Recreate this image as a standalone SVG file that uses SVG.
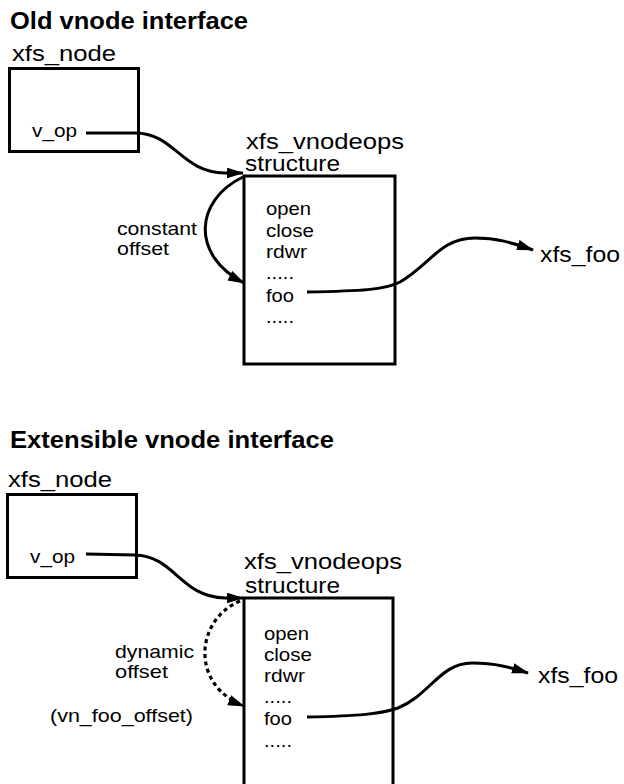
<svg xmlns="http://www.w3.org/2000/svg" width="624" height="784" viewBox="0 0 624 784">
<defs>
<style>
text{font-family:"Liberation Sans",Arial,Helvetica,sans-serif;fill:#000}
.title{font-weight:bold;font-size:24px}
.big{font-size:22px}
.sm{font-size:19px}
.box{fill:none;stroke:#000;stroke-width:3}
.conn{fill:none;stroke:#000;stroke-width:3}
.dash{stroke-dasharray:4 3.5;stroke-width:3.2}
</style>
<marker id="arr" viewBox="0 0 16 10" refX="15" refY="5" markerWidth="17" markerHeight="11" markerUnits="userSpaceOnUse" orient="auto">
<path d="M0,0 L16,5 L0,10 Z" fill="#000"/>
</marker>
</defs>
<rect width="624" height="784" fill="#fff"/>

<g id="old">
<text class="title" x="10" y="29" textLength="238" lengthAdjust="spacingAndGlyphs">Old vnode interface</text>
<g id="old-xfs-node">
<text class="big" x="12" y="61" textLength="104" lengthAdjust="spacingAndGlyphs">xfs_node</text>
<rect class="box" x="9.5" y="68.5" width="129" height="83"/>
<text class="sm" x="32" y="137" textLength="45" lengthAdjust="spacingAndGlyphs">v_op</text>
</g>
<g id="old-vnodeops">
<text class="big" x="246" y="148.5" textLength="158" lengthAdjust="spacingAndGlyphs">xfs_vnodeops</text>
<text class="big" x="245" y="171" textLength="95" lengthAdjust="spacingAndGlyphs">structure</text>
<rect class="box" x="244" y="176" width="151" height="188"/>
<text class="sm" x="266" y="215" textLength="45" lengthAdjust="spacingAndGlyphs">open</text>
<text class="sm" x="266" y="236.5" textLength="48" lengthAdjust="spacingAndGlyphs">close</text>
<text class="sm" x="266" y="258" textLength="41" lengthAdjust="spacingAndGlyphs">rdwr</text>
<text class="sm" x="266" y="279" textLength="28" lengthAdjust="spacingAndGlyphs">.....</text>
<text class="sm" x="266" y="301.5" textLength="28" lengthAdjust="spacingAndGlyphs">foo</text>
<text class="sm" x="266" y="323" textLength="28" lengthAdjust="spacingAndGlyphs">.....</text>
</g>
<g id="old-offset-label">
<text class="sm" x="117" y="235" textLength="80" lengthAdjust="spacingAndGlyphs">constant</text>
<text class="sm" x="117" y="255" textLength="52" lengthAdjust="spacingAndGlyphs">offset</text>
</g>
<g id="old-xfs-foo">
<text class="big" x="540" y="262" textLength="80" lengthAdjust="spacingAndGlyphs">xfs_foo</text>
</g>
</g>

<g id="new">
<text class="title" x="10" y="448" textLength="324" lengthAdjust="spacingAndGlyphs">Extensible vnode interface</text>
<g id="new-xfs-node">
<text class="big" x="8" y="487" textLength="104" lengthAdjust="spacingAndGlyphs">xfs_node</text>
<rect class="box" x="7.5" y="494.5" width="129" height="83"/>
<text class="sm" x="30" y="563" textLength="45" lengthAdjust="spacingAndGlyphs">v_op</text>
</g>
<g id="new-vnodeops">
<text class="big" x="244" y="569" textLength="158" lengthAdjust="spacingAndGlyphs">xfs_vnodeops</text>
<text class="big" x="245" y="593" textLength="95" lengthAdjust="spacingAndGlyphs">structure</text>
<rect class="box" x="244" y="598" width="149" height="200"/>
<text class="sm" x="264" y="640" textLength="45" lengthAdjust="spacingAndGlyphs">open</text>
<text class="sm" x="264" y="661" textLength="48" lengthAdjust="spacingAndGlyphs">close</text>
<text class="sm" x="264" y="682" textLength="41" lengthAdjust="spacingAndGlyphs">rdwr</text>
<text class="sm" x="264" y="703" textLength="28" lengthAdjust="spacingAndGlyphs">.....</text>
<text class="sm" x="264" y="725" textLength="28" lengthAdjust="spacingAndGlyphs">foo</text>
<text class="sm" x="264" y="747" textLength="28" lengthAdjust="spacingAndGlyphs">.....</text>
</g>
<g id="new-offset-label">
<text class="sm" x="115" y="658" textLength="79" lengthAdjust="spacingAndGlyphs">dynamic</text>
<text class="sm" x="115" y="678" textLength="53" lengthAdjust="spacingAndGlyphs">offset</text>
<text class="sm" x="50" y="722" textLength="143" lengthAdjust="spacingAndGlyphs">(vn_foo_offset)</text>
</g>
<g id="new-xfs-foo">
<text class="big" x="538" y="683" textLength="80" lengthAdjust="spacingAndGlyphs">xfs_foo</text>
</g>
</g>

<g id="connectors">
<path class="conn" marker-end="url(#arr)" d="M86,133 L135,133 C175,133 180,172 225,173 L243,173"/>
<path class="conn" marker-end="url(#arr)" d="M243,177 C195,200 190,255 244,283"/>
<path class="conn" marker-end="url(#arr)" d="M307,292 C360,291 385,290 400,282 C430,265 440,238 475,238 C500,238 515,244 533,250"/>
<path class="conn" marker-end="url(#arr)" d="M86,554 L135,555 C175,556 180,597 225,598 L243,598"/>
<path class="conn dash" marker-end="url(#arr)" d="M240,601 C195,620 190,685 244,706"/>
<path class="conn" marker-end="url(#arr)" d="M307,717 C360,716 380,714 398,708 C430,695 440,663 472,663 C497,663 512,668 528,673"/>
</g>
</svg>
